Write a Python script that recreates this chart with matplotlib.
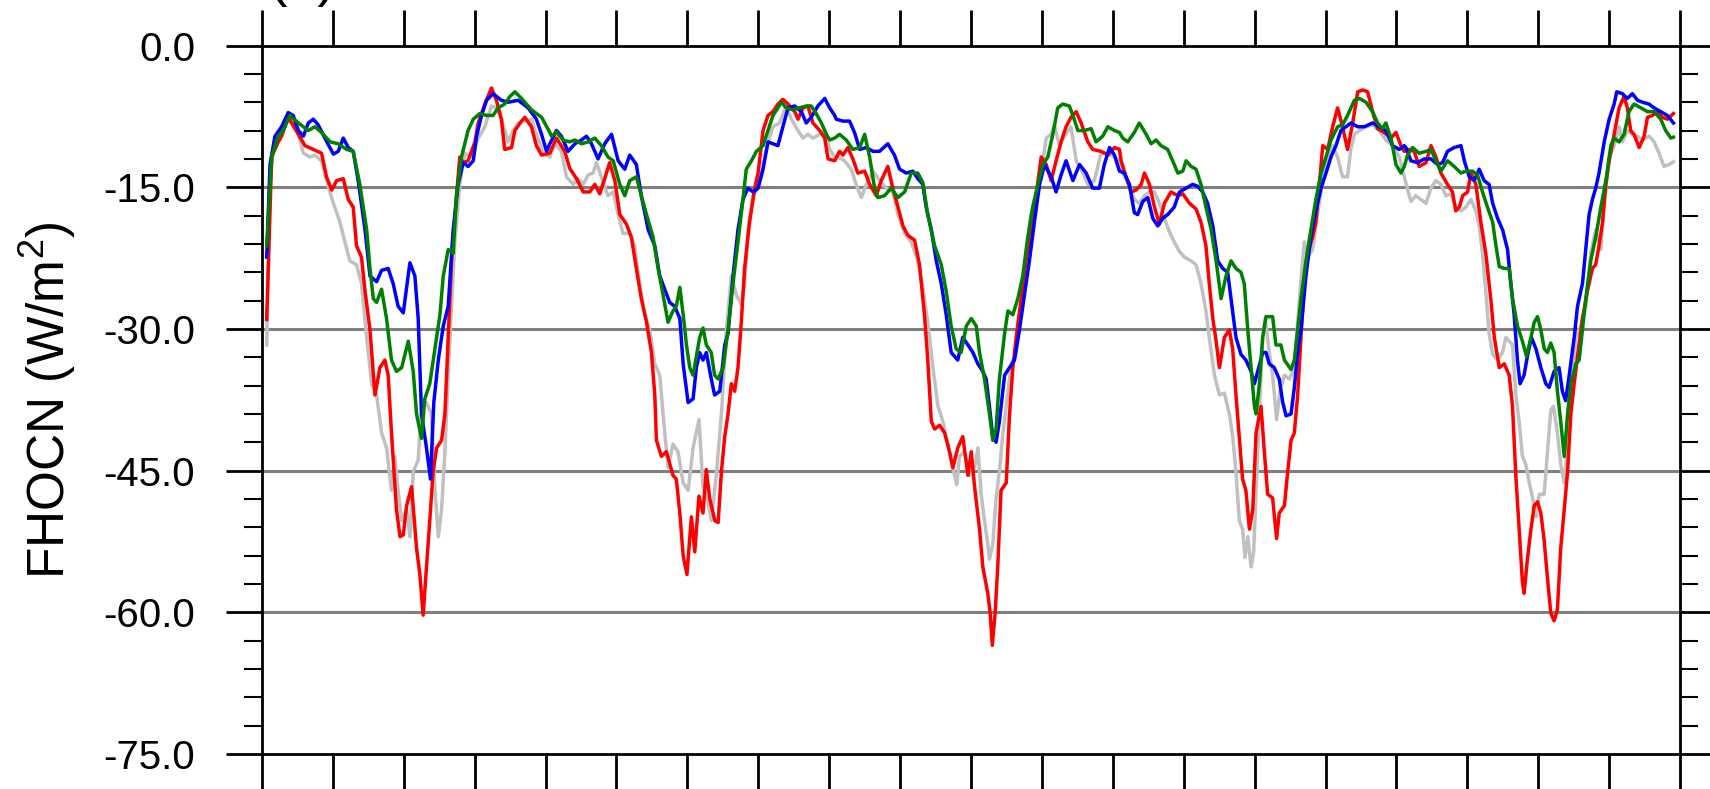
import matplotlib
matplotlib.use("Agg")
import matplotlib.pyplot as plt
from matplotlib.ticker import MultipleLocator

plt.rcParams['font.family'] = ['Liberation Sans', 'DejaVu Sans']

# (month since start, FHOCN in W/m2)
red = [(0.2,-29),(0.41,-11.8),(0.69,-10.2),(0.83,-9.6),(1.11,-7.6),(1.54,-9.4),(1.82,-10.6),(2.17,-11.0),(2.52,-11.4),(2.73,-13.9),
       (2.95,-15.3),(3.16,-14.3),(3.44,-14.1),(3.65,-16.3),(3.86,-17.1),(4.0,-21.2),(4.21,-22.4),(4.36,-26.0),(4.57,-30.1),(4.78,-37.0),
       (4.99,-34.1),(5.2,-33.3),(5.34,-34.9),(5.48,-41.0),(5.69,-49.1),(5.84,-52.0),(5.98,-51.8),(6.12,-48.7),(6.33,-46.7),(6.54,-53.2),
       (6.68,-56.0),(6.82,-60.3),(6.96,-55.2),(7.1,-50.3),(7.24,-45.1),(7.39,-42.6),(7.6,-41.8),(7.74,-39.0),(7.88,-30.9),(8.02,-22.8),
       (8.23,-15.9),(8.37,-11.8),(8.51,-12.4),(8.72,-12.2),(9.01,-10.2),(9.15,-8.2),(9.43,-6.2),(9.71,-4.5),(9.92,-5.8),(10.13,-7.8),
       (10.27,-11.0),(10.56,-10.8),(10.7,-9.0),(10.98,-8.0),(11.12,-7.6),(11.4,-8.6),(11.61,-10.6),(11.83,-11.6),(12.18,-11.4),
       (12.46,-9.8),(12.81,-11.2),(13.02,-13.0),(13.31,-14.1),(13.59,-15.5),(13.87,-15.5),(14.08,-14.7),(14.29,-15.7),(14.5,-14.1),(14.71,-12.4),
       (14.93,-14.3),(15.14,-17.9),(15.42,-18.9),(15.63,-20.3),(15.84,-23.6),(16.05,-26.8),(16.27,-29.3),(16.48,-32.5),(16.62,-37.0),(16.69,-41.8),
       (16.9,-43.5),(17.11,-43.0),(17.39,-45.5),(17.53,-45.9),(17.68,-49.5),(17.82,-54.0),(17.98,-56.0),(18.17,-49.9),(18.31,-53.6),(18.49,-47.7),
       (18.66,-49.5),(18.8,-44.9),(18.94,-47.9),(19.16,-50.3),(19.3,-50.5),(19.44,-45.1),(19.58,-41.4),(19.72,-39.0),(19.86,-35.8),(20.0,-36.6),
       (20.14,-34.1),(20.28,-29.3),(20.42,-23.6),(20.63,-18.7),(20.85,-15.1),(20.99,-13.5),(21.2,-9.0),(21.41,-7.4),(21.62,-7.0),(21.83,-6.2),
       (22.04,-5.7),(22.26,-6.2),(22.54,-7.0),(22.68,-7.8),(22.89,-6.6),(23.1,-6.4),(23.31,-8.2),(23.6,-9.0),(23.81,-9.8),(23.95,-12.0),(24.23,-12.2),
       (24.44,-11.2),(24.58,-11.6),(24.79,-10.8),(25.0,-12.0),(25.21,-13.5),(25.5,-13.3),(25.71,-14.7),(25.99,-15.9),(26.2,-14.3),(26.48,-12.8),
       (26.69,-15.1),(26.91,-17.1),(27.12,-19.1),(27.33,-20.1),(27.61,-20.6),(27.82,-23.2),(28.03,-28.5),(28.17,-33.3),(28.32,-39.8),(28.46,-40.6),
       (28.67,-40.2),(28.88,-41.0),(29.09,-43.0),(29.23,-44.7),(29.44,-42.6),(29.65,-41.4),(29.87,-45.5),(30.01,-43.0),(30.15,-46.7),(30.36,-51.2),
       (30.5,-55.2),(30.71,-58.0),(30.81,-60.1),(30.9,-63.5),(31.02,-60.1),(31.13,-55.2),(31.27,-47.1),(31.49,-46.3),(31.63,-39.0),(31.77,-34.1),
       (31.91,-30.9),(32.12,-26.8),(32.33,-22.8),(32.54,-19.5),(32.75,-15.9),(32.97,-11.8),(33.18,-12.6),(33.39,-14.3),(33.6,-12.2),(33.81,-10.2),
       (34.02,-8.6),(34.23,-7.6),(34.45,-7.0),(34.66,-8.2),(34.94,-10.2),(35.15,-11.0),(35.5,-11.2),(35.79,-11.6),(36.07,-10.8),(36.28,-11.0),
       (36.35,-12.2),(36.56,-13.9),(36.77,-15.5),(36.98,-15.3),(37.2,-14.7),(37.34,-13.5),(37.55,-14.7),(37.76,-17.1),(37.97,-18.9),(38.18,-16.7),
       (38.46,-15.5),(38.75,-15.9),(38.96,-15.7),(39.24,-16.7),(39.52,-17.3),(39.73,-18.7),(39.94,-21.2),(40.08,-25.2),(40.23,-28.9),(40.37,-31.3),
       (40.51,-34.1),(40.72,-30.9),(40.93,-30.1),(41.07,-32.1),(41.21,-37.0),(41.35,-41.4),(41.49,-45.9),(41.63,-47.1),(41.78,-51.2),(41.92,-49.1),
       (42.06,-41.0),(42.27,-38.2),(42.41,-43.0),(42.55,-47.5),(42.76,-47.9),(42.93,-52.2),(43.04,-49.5),(43.26,-48.7),(43.4,-45.1),(43.54,-41.8),
       (43.68,-41.0),(43.82,-37.0),(43.96,-30.9),(44.1,-25.2),(44.24,-22.0),(44.45,-20.3),(44.59,-18.7),(44.74,-14.7),(44.88,-10.6),(45.09,-11.0),
       (45.3,-8.6),(45.51,-6.6),(45.72,-8.6),(45.93,-11.0),(46.15,-8.2),(46.36,-4.9),(46.57,-4.7),(46.78,-4.9),(46.99,-7.0),(47.2,-8.8),
       (47.48,-9.2),(47.77,-9.8),(47.98,-9.2),(48.19,-10.6),(48.33,-11.2),
       (48.54,-11.0),(48.75,-11.2),(48.96,-12.8),(49.25,-12.4),(49.46,-10.6),(49.67,-11.8),(49.88,-13.5),(50.16,-14.7),(50.37,-15.5),(50.51,-17.5),
       (50.66,-17.1),(50.8,-15.9),(51.01,-15.5),(51.15,-13.5),(51.36,-14.7),(51.57,-18.7),(51.78,-22.0),(51.99,-26.8),(52.14,-30.9),(52.35,-34.1),
       (52.56,-33.7),(52.77,-34.9),(52.91,-38.2),(53.05,-45.5),(53.19,-51.2),(53.33,-56.8),(53.4,-58.0),(53.54,-54.4),(53.69,-51.2),(53.83,-48.7),
       (53.97,-48.3),(54.11,-49.5),(54.25,-52.4),(54.39,-56.4),(54.53,-60.1),(54.67,-60.9),(54.81,-59.7),(54.95,-53.2),(55.1,-49.1),(55.24,-45.1),
       (55.38,-39.0),(55.52,-35.8),(55.66,-32.9),(55.87,-28.9),(56.08,-26.0),(56.29,-23.6),(56.43,-23.2),(56.57,-21.2),(56.72,-18.7),(56.86,-14.7),
       (57.0,-12.2),(57.21,-9.4),(57.42,-6.6),(57.63,-5.4),(57.77,-6.6),(57.91,-9.0),(58.05,-9.4),(58.27,-10.8),(58.48,-9.6),(58.62,-7.6),
       (58.83,-7.4),(59.04,-7.0),(59.25,-7.6),(59.46,-7.8),(59.72,-7.2)]

blue = [(0.2,-22.4),(0.34,-12.6),(0.55,-9.6),(0.83,-8.6),(1.11,-7.1),(1.32,-7.4),(1.54,-9.0),(1.75,-9.6),(1.96,-8.2),(2.17,-7.8),
        (2.38,-8.4),(2.66,-9.8),(3.02,-11.5),(3.23,-11.2),(3.44,-9.8),(3.65,-10.8),(3.86,-11.2),(4.07,-14.3),(4.36,-19.5),(4.57,-24.4),
        (4.85,-25.0),(5.06,-23.8),(5.34,-23.6),(5.55,-25.2),(5.76,-27.6),(5.98,-28.3),(6.12,-25.6),(6.26,-23.0),(6.47,-24.4),(6.61,-28.9),
        (6.75,-39.0),(6.96,-42.6),(7.13,-45.9),(7.27,-37.8),(7.46,-33.3),(7.67,-29.7),(7.88,-27.6),(8.09,-19.5),(8.3,-14.7),(8.51,-12.4),
        (8.72,-12.8),(8.94,-12.2),(9.08,-9.6),(9.29,-7.4),(9.5,-5.8),(9.78,-5.1),(10.13,-5.8),(10.42,-6.0),(10.84,-5.8),(11.26,-6.6),
        (11.61,-7.8),(11.83,-9.4),(12.04,-11.2),
        (12.18,-10.4),(12.46,-9.0),(12.67,-9.6),(12.95,-11.2),(13.24,-10.4),(13.52,-10.0),(13.73,-9.6),(13.94,-10.4),(14.22,-12.0),(14.5,-10.4),
        (14.79,-9.4),(15.07,-12.2),(15.35,-13.1),(15.56,-11.6),(15.84,-12.6),(16.05,-15.9),(16.34,-19.5),(16.62,-21.2),(16.83,-24.4),(17.04,-25.8),
        (17.25,-27.2),(17.46,-27.6),(17.68,-28.9),(17.82,-33.7),(18.03,-37.8),(18.24,-37.4),(18.38,-34.1),(18.52,-32.5),(18.66,-33.3),(18.8,-32.5),
        (19.01,-35.3),(19.15,-37.0),(19.37,-36.6),(19.58,-31.7),(19.72,-30.5),(19.93,-24.4),(20.14,-19.5),(20.35,-16.3),(20.56,-15.1),(20.78,-15.5),
        (20.99,-15.1),(21.2,-13.1),(21.41,-10.2),(21.62,-10.4),(21.83,-10.6),(22.04,-8.6),(22.26,-6.6),(22.54,-6.4),(22.82,-7.0),(23.03,-8.2),
        (23.24,-7.6),(23.52,-6.4),(23.81,-5.6),(24.02,-6.6),(24.23,-7.4),
        (24.3,-7.8),(24.58,-8.0),(24.86,-8.0),(25.07,-9.2),(25.29,-11.0),(25.57,-10.8),(25.85,-11.2),(26.13,-11.2),(26.48,-10.4),(26.76,-11.6),
        (26.98,-13.1),(27.26,-13.5),(27.54,-13.3),(27.75,-14.1),(27.96,-14.7),(28.1,-17.1),(28.32,-19.5),(28.53,-22.8),(28.74,-25.2),(28.95,-28.5),
        (29.16,-32.5),(29.44,-33.3),(29.65,-30.9),(29.87,-31.7),(30.08,-32.5),(30.29,-33.7),(30.5,-34.5),(30.64,-35.3),(30.78,-38.2),(30.92,-41.4),
        (31.06,-42.0),(31.2,-39.8),(31.42,-34.9),(31.63,-34.1),(31.84,-33.3),(32.05,-30.1),(32.26,-26.4),(32.47,-22.8),(32.68,-18.7),(32.9,-14.7),
        (33.11,-12.6),(33.39,-13.9),(33.6,-15.5),(33.81,-13.7),(34.02,-12.2),(34.31,-14.3),(34.59,-12.6),(34.87,-13.5),(35.15,-15.1),(35.43,-15.1),
        (35.64,-12.6),(35.86,-10.8),(36.07,-11.6),(36.28,-13.3),
        (36.49,-13.5),(36.7,-14.7),(36.91,-17.7),(37.05,-17.9),(37.27,-16.5),(37.48,-16.1),(37.69,-18.3),(37.9,-19.1),(38.11,-18.3),(38.32,-17.9),
        (38.6,-17.1),(38.82,-15.5),(39.1,-15.1),(39.38,-14.7),(39.59,-14.9),(39.8,-15.5),(40.01,-16.7),(40.23,-19.1),(40.44,-22.8),(40.65,-23.6),
        (40.86,-24.0),(41.0,-26.8),(41.21,-30.9),(41.42,-32.7),(41.63,-33.3),(41.85,-34.5),(41.99,-35.8),(42.13,-34.5),(42.34,-32.5),(42.48,-32.5),
        (42.62,-33.7),(42.83,-34.1),(43.04,-35.3),(43.19,-37.8),(43.33,-39.2),(43.54,-39.0),(43.68,-36.2),(43.82,-32.5),(43.96,-30.1),(44.17,-24.4),
        (44.38,-20.3),(44.59,-17.5),(44.81,-15.1),(45.02,-13.5),(45.23,-11.8),(45.44,-10.6),(45.65,-9.0),(45.86,-8.6),(46.07,-8.2),(46.36,-8.6),
        (46.64,-8.6),(46.99,-8.2),(47.27,-8.6),(47.55,-9.0),(47.84,-10.6),(48.12,-11.0),(48.33,-10.6),
        (48.4,-10.8),(48.61,-12.2),(48.89,-12.4),(49.18,-12.0),(49.46,-12.0),(49.74,-12.6),(49.95,-12.4),(50.16,-11.2),(50.44,-10.8),(50.73,-10.6),
        (50.87,-12.2),(51.08,-13.9),(51.29,-14.3),(51.5,-13.1),(51.71,-14.3),(51.92,-14.7),(52.07,-16.7),(52.28,-18.3),(52.49,-19.5),(52.7,-21.6),
        (52.84,-25.2),(52.98,-28.5),(53.12,-33.3),(53.23,-35.8),(53.4,-34.9),(53.54,-32.9),(53.71,-30.9),(53.9,-32.1),(54.11,-34.1),(54.32,-35.8),
        (54.46,-36.2),(54.67,-34.5),(54.88,-34.1),(55.02,-36.6),(55.16,-37.6),(55.31,-34.9),(55.52,-30.9),(55.66,-27.6),(55.87,-25.2),(56.01,-21.6),
        (56.15,-17.9),(56.29,-16.3),(56.43,-15.1),(56.57,-13.5),(56.79,-10.2),(57.0,-7.8),(57.21,-6.2),(57.32,-4.9),(57.56,-5.1),(57.77,-5.6),
        (57.98,-5.1),(58.2,-5.8),(58.41,-6.0),(58.69,-6.2),(58.9,-6.6),(59.18,-7.0),(59.46,-7.4),(59.72,-8.2)]

green = [(0.2,-21.2),(0.41,-11.8),(0.69,-9.6),(0.9,-9.0),(1.18,-7.4),(1.54,-8.2),(1.96,-9.0),(2.24,-8.6),(2.52,-9.2),(2.88,-10.2),
         (3.23,-10.4),(3.58,-11.0),(3.86,-11.2),(4.14,-14.7),(4.43,-19.5),(4.57,-23.6),(4.71,-26.8),(4.85,-27.2),(5.06,-25.8),(5.27,-28.9),
         (5.48,-33.3),(5.69,-34.5),(5.91,-34.1),(6.19,-31.3),(6.4,-34.5),(6.54,-39.0),(6.75,-41.6),(6.89,-37.4),(7.1,-35.8),(7.32,-32.1),
         (7.53,-28.5),(7.67,-24.4),(7.88,-21.6),(8.09,-22.0),(8.23,-15.9),(8.44,-11.8),(8.72,-9.0),(8.94,-7.8),(9.22,-7.2),(9.5,-7.4),
         (9.78,-7.4),(9.99,-6.6),(10.27,-6.2),(10.49,-5.4),(10.7,-4.9),(10.98,-5.6),(11.4,-6.8),(11.83,-7.6),(12.18,-9.2),
         (12.25,-9.6),(12.46,-9.2),(12.74,-10.0),(13.02,-10.2),(13.24,-10.0),(13.52,-10.4),(13.8,-10.2),(14.08,-9.8),(14.36,-10.6),(14.64,-11.8),
         (14.86,-12.2),(15.14,-14.7),(15.35,-15.9),(15.56,-14.3),(15.84,-13.9),(16.05,-15.9),(16.27,-17.9),(16.55,-20.3),(16.76,-23.6),(16.97,-26.4),
         (17.18,-29.3),(17.39,-28.1),(17.53,-27.6),(17.68,-25.6),(17.82,-28.5),(17.96,-31.7),(18.1,-34.1),(18.24,-34.9),(18.38,-32.9),(18.52,-30.9),
         (18.66,-29.9),(18.8,-31.7),(19.01,-32.5),(19.15,-34.9),(19.3,-35.3),(19.51,-34.1),(19.72,-30.1),(19.93,-25.2),(20.14,-20.8),(20.35,-16.3),
         (20.49,-13.1),(20.71,-12.2),(20.92,-11.2),(21.2,-10.6),(21.41,-9.0),(21.62,-7.4),(21.83,-6.6),(21.97,-6.0),(22.18,-6.6),(22.47,-6.8),
         (22.75,-6.6),(23.03,-6.4),(23.24,-6.4),(23.45,-7.2),(23.67,-8.2),(23.88,-9.4),(24.02,-10.0),(24.23,-9.8),
         (24.44,-9.4),(24.72,-10.0),(25.0,-11.0),(25.29,-10.8),(25.5,-9.4),(25.71,-11.8),(25.92,-15.1),(26.06,-16.1),(26.34,-15.9),(26.62,-15.1),
         (26.91,-16.1),(27.19,-15.5),(27.47,-13.5),(27.75,-13.5),(27.96,-14.5),(28.17,-17.9),(28.46,-21.2),(28.74,-23.2),(28.95,-26.0),(29.16,-29.7),
         (29.37,-32.1),(29.58,-32.5),(29.8,-29.7),(30.01,-28.9),(30.22,-29.7),(30.36,-32.5),(30.57,-35.3),(30.78,-39.0),(30.92,-41.8),(31.06,-40.6),
         (31.2,-35.3),(31.42,-30.5),(31.56,-28.1),(31.77,-28.5),(31.98,-26.8),(32.19,-24.4),(32.4,-20.3),(32.61,-17.1),(32.83,-14.7),(33.04,-12.6),
         (33.25,-11.8),(33.46,-9.4),(33.67,-6.6),(33.88,-6.2),(34.16,-6.4),(34.31,-7.4),(34.52,-9.0),(34.8,-9.0),(35.08,-8.8),(35.29,-10.2),
         (35.57,-9.6),(35.79,-8.6),(36.07,-9.0),(36.28,-9.2),
         (36.42,-9.8),(36.63,-10.2),(36.91,-9.2),(37.12,-8.2),(37.41,-9.4),(37.62,-10.4),(37.83,-10.0),(38.04,-10.6),(38.32,-11.0),(38.53,-12.2),
         (38.75,-13.5),(38.96,-13.3),(39.1,-12.2),(39.31,-12.8),(39.52,-13.1),(39.73,-14.7),(39.94,-17.1),(40.16,-19.5),(40.37,-22.8),(40.58,-26.8),
         (40.79,-24.4),(41.0,-22.8),(41.21,-23.6),(41.42,-24.0),(41.56,-25.2),(41.71,-30.1),(41.85,-34.1),(41.99,-38.2),(42.06,-39.0),(42.2,-35.8),
         (42.34,-30.9),(42.48,-28.7),(42.76,-28.7),(42.9,-31.7),(43.11,-31.7),(43.26,-33.3),(43.54,-34.3),(43.68,-33.3),(43.82,-30.1),(43.96,-26.8),
         (44.17,-22.8),(44.38,-19.5),(44.59,-16.3),(44.81,-13.5),(45.02,-11.8),(45.23,-10.0),(45.51,-8.6),(45.72,-8.4),(45.93,-7.4),(46.22,-5.8),
         (46.43,-5.6),(46.71,-6.0),(46.99,-7.0),(47.2,-8.2),(47.41,-8.8),(47.55,-8.2),(47.77,-9.8),(47.98,-12.6),(48.19,-13.5),(48.33,-12.8),
         (48.47,-11.6),(48.68,-10.8),(48.96,-11.4),(49.25,-11.2),(49.46,-11.0),(49.67,-12.2),(49.88,-13.3),(50.16,-12.2),(50.44,-12.8),(50.73,-13.5),
         (50.94,-13.3),(51.22,-13.3),(51.43,-13.7),(51.64,-15.5),(51.85,-17.1),(52.07,-18.7),(52.21,-21.2),(52.35,-23.4),(52.56,-23.6),(52.77,-23.6),
         (52.91,-26.8),(53.12,-29.7),(53.33,-31.3),(53.5,-32.9),(53.69,-30.9),(53.83,-29.3),(53.97,-28.7),(54.11,-30.1),(54.25,-32.1),(54.39,-32.5),
         (54.53,-31.5),(54.67,-32.5),(54.81,-36.6),(54.95,-39.8),(55.1,-43.5),(55.24,-39.0),(55.38,-35.8),(55.59,-33.7),(55.73,-33.3),(55.87,-30.1),
         (56.01,-26.8),(56.22,-22.8),(56.43,-20.3),(56.65,-17.1),(56.86,-14.3),(57.07,-10.6),(57.21,-9.8),(57.42,-10.2),(57.63,-9.4),(57.84,-7.0),
         (58.05,-6.2),(58.34,-6.6),(58.62,-7.0),(58.9,-7.0),(59.18,-7.8),(59.39,-9.0),(59.61,-9.8),(59.72,-9.7)]

gray = [(0.2,-31.7),(0.34,-14.7),(0.48,-10.6),(0.76,-9.0),(1.04,-8.0),(1.25,-7.8),(1.54,-9.4),(1.75,-11.4),(2.03,-11.8),(2.24,-11.6),
        (2.52,-12.2),(2.73,-14.3),(3.02,-16.7),(3.3,-18.7),(3.51,-20.8),(3.72,-22.8),(4.0,-23.2),(4.21,-25.2),(4.43,-30.9),(4.64,-35.8),
        (4.85,-37.0),(5.06,-41.0),(5.27,-42.6),(5.48,-47.1),(5.62,-43.5),(5.76,-47.1),(5.91,-50.3),(6.12,-49.1),(6.26,-52.0),(6.4,-45.1),
        (6.61,-43.9),(6.75,-38.2),(6.96,-37.8),(7.17,-39.0),(7.32,-47.1),(7.46,-52.0),(7.6,-49.1),(7.74,-43.0),(7.88,-34.9),(8.02,-27.6),
        (8.16,-20.8),(8.37,-14.7),(8.58,-11.4),(8.87,-11.8),(9.15,-9.8),(9.43,-8.6),(9.71,-6.4),(9.92,-6.6),(10.13,-7.8),(10.42,-10.2),
        (10.63,-9.0),(10.84,-8.2),(11.12,-8.0),(11.4,-7.8),(11.61,-9.4),(11.9,-11.4),(12.18,-11.8),
        (12.39,-10.4),(12.67,-11.2),(12.88,-13.9),(13.17,-14.7),(13.38,-14.1),(13.59,-14.7),(13.8,-13.7),(14.01,-13.5),(14.15,-12.4),(14.36,-13.9),
        (14.64,-15.9),(14.86,-15.5),(15.07,-17.9),(15.28,-19.9),(15.56,-19.9),(15.77,-21.2),(15.98,-25.2),(16.2,-28.5),(16.41,-30.1),(16.62,-33.7),
        (16.83,-34.9),(16.97,-39.0),(17.18,-44.7),(17.39,-42.2),(17.6,-43.0),(17.82,-46.3),(18.03,-47.1),(18.24,-42.6),(18.49,-39.6),(18.66,-46.7),
        (18.87,-48.3),(19.01,-50.3),(19.22,-45.5),(19.44,-39.0),(19.65,-30.1),(19.86,-24.4),(20.07,-26.4),(20.28,-27.4),(20.42,-25.2),(20.56,-19.5),
        (20.78,-15.9),(20.99,-15.1),(21.2,-12.6),(21.41,-10.2),(21.62,-8.6),(21.9,-8.2),(22.18,-6.4),(22.4,-7.8),(22.68,-9.0),(22.89,-9.8),
        (23.1,-9.4),(23.31,-9.8),(23.6,-9.4),(23.81,-9.0),(24.02,-11.0),(24.23,-11.8),
        (24.37,-11.8),(24.65,-12.2),(24.93,-13.1),(25.14,-14.7),(25.36,-16.1),(25.57,-14.7),(25.85,-13.3),(26.13,-14.3),(26.41,-15.1),(26.69,-15.5),
        (26.91,-17.9),(27.19,-19.9),(27.47,-20.8),(27.75,-22.8),(27.96,-25.6),(28.17,-29.3),(28.39,-34.1),(28.6,-38.2),(28.81,-39.8),(29.02,-42.2),
        (29.23,-44.7),(29.4,-46.5),(29.51,-43.5),(29.72,-43.0),(29.94,-45.5),(30.15,-44.7),(30.29,-42.6),(30.43,-47.5),(30.57,-50.3),(30.71,-52.8),
        (30.78,-54.4),(30.92,-52.8),(31.06,-47.9),(31.2,-45.1),(31.35,-41.0),(31.49,-38.2),(31.7,-33.7),(31.91,-32.5),(32.12,-27.6),(32.33,-22.0),
        (32.54,-17.9),(32.75,-15.9),(32.97,-13.5),(33.18,-9.8),(33.39,-9.4),(33.53,-8.4),(33.74,-10.6),(33.95,-9.6),(34.23,-8.6),(34.45,-12.2),
        (34.66,-13.1),(34.94,-14.7),(35.22,-14.3),(35.5,-11.4),(35.79,-11.4),(36.07,-11.8),(36.28,-12.2),
        (36.42,-13.5),(36.7,-14.7),(36.91,-16.3),(37.12,-16.7),(37.34,-15.9),(37.55,-15.5),(37.76,-15.5),(37.97,-16.7),(38.18,-18.3),(38.39,-19.7),
        (38.6,-20.8),(38.82,-21.8),(39.03,-22.4),(39.31,-22.8),(39.52,-23.2),(39.73,-25.2),(39.94,-28.1),(40.08,-30.9),(40.3,-34.9),(40.51,-37.0),
        (40.72,-36.8),(40.93,-39.0),(41.07,-41.4),(41.21,-45.1),(41.35,-50.3),(41.49,-51.2),(41.59,-54.2),(41.71,-52.0),(41.85,-55.2),(41.96,-53.6),
        (42.06,-47.1),(42.2,-39.0),(42.34,-30.9),(42.45,-28.9),(42.62,-32.5),(42.76,-34.9),(42.93,-39.6),(43.07,-36.6),(43.26,-34.9),(43.47,-35.3),
        (43.68,-34.1),(43.82,-29.3),(43.96,-24.8),(44.1,-20.8),(44.24,-22.4),(44.45,-21.6),(44.66,-17.9),(44.88,-14.3),(45.09,-11.8),(45.3,-10.6),
        (45.51,-11.8),(45.72,-13.9),(45.93,-13.9),(46.07,-11.0),(46.22,-9.4),(46.43,-9.0),(46.71,-8.6),(46.99,-8.4),(47.27,-9.0),(47.55,-10.0),
        (47.84,-10.6),(48.12,-11.8),(48.33,-13.9),
        (48.61,-16.5),(48.82,-15.9),(49.03,-16.3),(49.25,-16.7),(49.46,-15.1),(49.67,-14.3),(49.88,-14.7),(50.09,-15.9),(50.3,-15.7),(50.51,-17.1),
        (50.73,-17.5),(50.94,-17.1),(51.15,-16.3),(51.36,-17.5),(51.5,-19.1),(51.64,-22.0),(51.78,-26.0),(51.92,-30.5),(52.07,-32.7),(52.28,-33.3),
        (52.49,-32.5),(52.63,-30.9),(52.77,-31.3),(52.91,-31.7),(53.05,-37.0),(53.19,-39.8),(53.33,-43.5),(53.47,-44.3),(53.62,-46.3),(53.76,-47.9),
        (53.9,-49.9),(54.04,-47.5),(54.25,-47.5),(54.39,-43.0),(54.53,-38.6),(54.64,-38.2),(54.81,-41.0),(54.95,-44.3),(55.1,-46.3),(55.24,-42.2),
        (55.38,-36.6),(55.59,-30.9),(55.8,-29.7),(56.01,-27.6),(56.22,-22.0),(56.43,-19.5),(56.65,-21.6),(56.79,-16.7),(57.0,-11.8),(57.21,-10.6),
        (57.42,-8.6),(57.56,-10.2),(57.77,-9.0),(57.98,-9.4),(58.2,-9.6),(58.41,-10.0),(58.69,-9.6),(58.9,-10.2),(59.11,-11.4),(59.32,-12.8),
        (59.53,-12.6),(59.72,-12.3)]

series = [(gray, 'silver'), (red, 'red'), (blue, 'blue'), (green, 'green')]
grid_levels = [-15, -30, -45, -60]

fig = plt.figure(figsize=(17.1, 7.89), dpi=100)
ax = fig.add_axes([0.1532, 0.0444, 0.8293, 0.8979])

for lev in grid_levels:
    ax.axhline(lev, color='#808080', lw=2.2, zorder=1)

for pts, col in series:
    xs, ys = zip(*pts)
    ax.plot(xs, ys, color=col, lw=2.5, zorder=2)

ax.set_xlim(0, 60)
ax.set_ylim(-75, 0)
ax.xaxis.set_major_locator(MultipleLocator(3))
ax.yaxis.set_minor_locator(MultipleLocator(3))
ax.set_yticks([0, -15, -30, -45, -60, -75])
ax.set_yticklabels(['0.0', '-15.0', '-30.0', '-45.0', '-60.0', '-75.0'])

for s in ax.spines.values():
    s.set_linewidth(2.0)

ax.tick_params(axis='x', which='major', direction='out', length=26, width=2,
               top=True, bottom=True, labelbottom=False)
ax.tick_params(axis='y', which='major', direction='out', length=26, width=2,
               left=True, right=True, labelsize=29, pad=22)
ax.tick_params(axis='y', which='minor', direction='out', length=13, width=1.5,
               left=True, right=True)

fig.text(48/1710, 0.492, r'FHOCN (W/m$\mathregular{^2}$)', rotation=90,
         ha='center', va='center', fontsize=37)
# panel tag sits mostly above the top edge, as in the original
fig.text(268/1710, 1 + 5/789, '(a)', fontsize=40, ha='left', va='baseline')

fig.savefig('out.png', dpi=100)
